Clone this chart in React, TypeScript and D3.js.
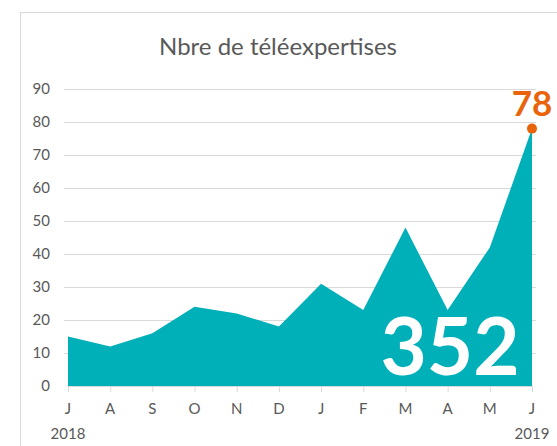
import * as d3 from 'd3'

const months = ['J', 'A', 'S', 'O', 'N', 'D', 'J', 'F', 'M', 'A', 'M', 'J']
const values = [15, 12, 16, 24, 22, 18, 31, 23, 48, 23, 42, 78]
const yTicks = [0, 10, 20, 30, 40, 50, 60, 70, 80, 90]
const years = [{ idx: 0, label: '2018' }, { idx: 11, label: '2019' }]
const total = d3.sum(values)

const width = 557,
      height = 446,
      margin = { top: 89, right: 25, bottom: 60, left: 68 },
      font = 'Lato, "Open Sans", sans-serif',
      teal = '#00B0B9',
      orange = '#E8630A',
      grey = '#595959'

const x = d3.scaleLinear()
  .domain([0, months.length - 1])
  .range([margin.left, width - margin.right])

const y = d3.scaleLinear()
  .domain([0, 90])
  .range([height - margin.bottom, margin.top])

const area = d3.area<number>()
  .x((d, i) => x(i))
  .y0(y(0))
  .y1(d => y(d))

export default function App() {
  const last = values.length - 1
  return (
    <svg width={width} height={height} style={{ position: 'absolute', left: 0, top: 0, background: '#fff' }}>
      <rect x={20.5} y={12.5} width={560} height={460} fill='none' stroke='#d9d9d9' />

      <text x={278} y={55} textAnchor='middle' fontFamily={font} fontSize={24} fill={grey}>
        Nbre de téléexpertises
      </text>

      <g className='grid'>
        {yTicks.map(t =>
          <g key={t}>
            {t > 0 &&
              <line x1={margin.left - 4} x2={x(last) + 4} y1={y(t) + 0.5} y2={y(t) + 0.5} stroke='#d9d9d9' />}
            <text x={50} y={y(t) + 5} textAnchor='end' fontFamily={font} fontSize={15} fill={grey}>{t}</text>
          </g>
        )}
      </g>

      <path d={area(values) ?? ''} fill={teal} />

      <g className='x-axis'>
        <line x1={x(0)} x2={x(last)} y1={y(0) + 0.5} y2={y(0) + 0.5} stroke='#d9d9d9' />
        {months.map((m, i) =>
          <g key={i}>
            <line x1={x(i) + 0.5} x2={x(i) + 0.5} y1={y(0)} y2={y(0) + 6} stroke='#d9d9d9' />
            <text x={x(i)} y={414} textAnchor='middle' fontFamily={font} fontSize={15} fill={grey}>{m}</text>
          </g>
        )}
        {years.map(yr =>
          <text key={yr.label} x={x(yr.idx)} y={439} textAnchor='middle' fontFamily={font} fontSize={15} fill={grey}>{yr.label}</text>
        )}
      </g>

      <circle cx={x(last)} cy={y(values[last])} r={5} fill={orange} />
      <text x={x(last)} y={y(values[last]) - 13} textAnchor='middle' fontFamily={font} fontWeight='bold' fontSize={35} fill={orange}>
        {values[last]}
      </text>

      <text x={450} y={375} textAnchor='middle' fontFamily={font} fontWeight='bold' fontSize={80} fill='#fff'>
        {total}
      </text>
    </svg>
  )
}
